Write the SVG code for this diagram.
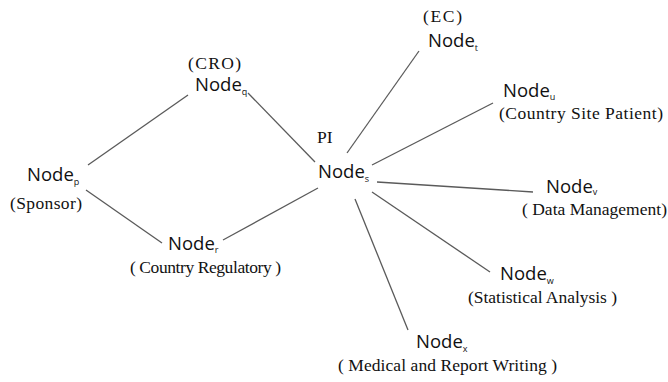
<svg xmlns="http://www.w3.org/2000/svg" width="668" height="382" viewBox="0 0 668 382">
  <style>
    .nm { font-family: "Open Sans", "Noto Sans", sans-serif; font-size: 18.5px; fill: #111; }
    .sub { font-size: 9px; }
    .lb { font-family: "Liberation Serif", "Times New Roman", serif; font-size: 17.5px; fill: #111; }
    .edge { stroke: #5a5a5a; stroke-width: 1.3; fill: none; }
  </style>
  <rect width="668" height="382" fill="#fff"/>

  <g id="connectors">
    <line class="edge" x1="88" y1="165" x2="188" y2="95"/>
    <line class="edge" x1="86" y1="190" x2="162" y2="243"/>
    <line class="edge" x1="248" y1="93" x2="315" y2="162"/>
    <line class="edge" x1="223" y1="240" x2="318" y2="188"/>
    <line class="edge" x1="347" y1="153" x2="419" y2="51"/>
    <line class="edge" x1="372" y1="165" x2="493" y2="103"/>
    <line class="edge" x1="377" y1="182" x2="533" y2="192"/>
    <line class="edge" x1="372" y1="192" x2="490" y2="272"/>
    <line class="edge" x1="355" y1="199" x2="408" y2="330"/>
  </g>

  <g id="node-p">
    <text class="nm" x="27" y="181">Node<tspan class="sub" dy="4">p</tspan></text>
    <text class="lb" x="10" y="209" textLength="72">(Sponsor)</text>
  </g>

  <g id="node-q">
    <text class="lb" x="188" y="69" textLength="53">(CRO)</text>
    <text class="nm" x="195" y="91">Node<tspan class="sub" dy="4">q</tspan></text>
  </g>

  <g id="node-r">
    <text class="nm" x="168" y="250">Node<tspan class="sub" dy="3">r</tspan></text>
    <text class="lb" x="130" y="273" textLength="151">( Country Regulatory )</text>
  </g>

  <g id="node-s">
    <text class="lb" x="317" y="143">PI</text>
    <text class="nm" x="318" y="178">Node<tspan class="sub" dy="4">s</tspan></text>
  </g>

  <g id="node-t">
    <text class="lb" x="423" y="22" textLength="39">(EC)</text>
    <text class="nm" x="428" y="47">Node<tspan class="sub" dy="4">t</tspan></text>
  </g>

  <g id="node-u">
    <text class="nm" x="503" y="97">Node<tspan class="sub" dy="3">u</tspan></text>
    <text class="lb" x="499" y="119" textLength="164">(Country Site Patient)</text>
  </g>

  <g id="node-v">
    <text class="nm" x="546" y="193">Node<tspan class="sub" dy="2">v</tspan></text>
    <text class="lb" x="522" y="215" textLength="145">( Data Management)</text>
  </g>

  <g id="node-w">
    <text class="nm" x="500" y="280">Node<tspan class="sub" dy="4">w</tspan></text>
    <text class="lb" x="468" y="303" textLength="149">(Statistical Analysis )</text>
  </g>

  <g id="node-x">
    <text class="nm" x="416" y="348">Node<tspan class="sub" dy="4">x</tspan></text>
    <text class="lb" x="338" y="371" textLength="219">( Medical and Report Writing )</text>
  </g>
</svg>
